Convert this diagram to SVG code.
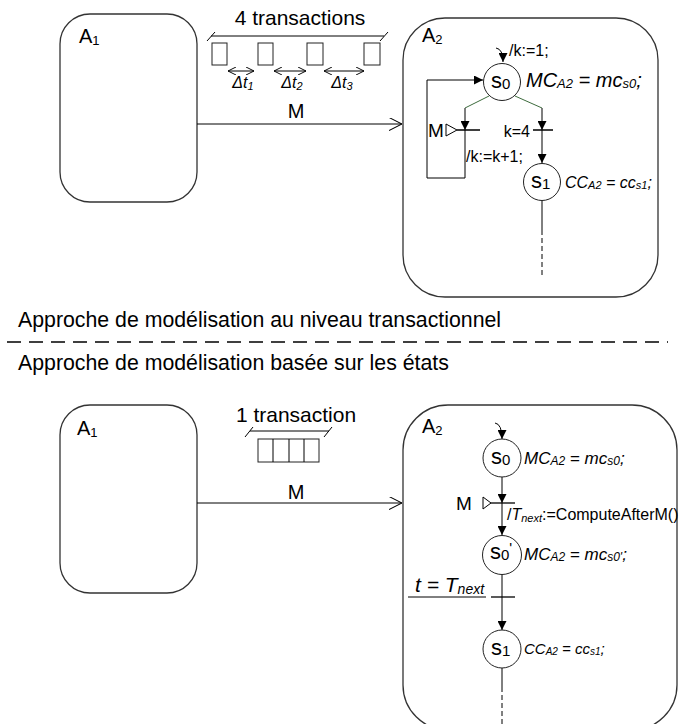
<svg xmlns="http://www.w3.org/2000/svg" width="679" height="724" viewBox="0 0 679 724">
<defs>
<style>
text{font-family:"Liberation Sans",Arial,sans-serif;fill:#000}
.it{font-style:italic}
.box{fill:none;stroke:#333;stroke-width:1.3}
.ln{fill:none;stroke:#000;stroke-width:1}
.gr{fill:none;stroke:#3d6b3d;stroke-width:1}
.gy{fill:none;stroke:#555;stroke-width:1.5}
.st{fill:#fff;stroke:#222;stroke-width:1}
.bar{fill:none;stroke:#000;stroke-width:1.3}
.pk{fill:#fff;stroke:#222;stroke-width:1}
</style>
<marker id="fa" viewBox="0 0 10 10" refX="10" refY="5" markerWidth="9" markerHeight="9" markerUnits="userSpaceOnUse" orient="auto"><path d="M0,0 L10,5 L0,10 z" fill="#000"/></marker>
<marker id="va" viewBox="0 0 10 10" refX="10" refY="5" markerWidth="13" markerHeight="13" markerUnits="userSpaceOnUse" orient="auto"><path d="M0,0 L10,5 L0,10" fill="none" stroke="#000" stroke-width="0.8"/></marker>
<marker id="vs" viewBox="0 0 10 10" refX="10" refY="5" markerWidth="8" markerHeight="8" markerUnits="userSpaceOnUse" orient="auto-start-reverse"><path d="M0,0 L10,5 L0,10" fill="none" stroke="#000" stroke-width="1.2"/></marker>
</defs>

<!-- ===== Top: transactional level ===== -->
<g id="A1-top">
<rect class="box" x="60" y="14" width="137" height="188" rx="30"/>
<text x="79" y="43" font-size="20">A<tspan font-size="13" dy="2">1</tspan></text>
</g>

<g id="transactions-top">
<text x="300" y="25" font-size="21" text-anchor="middle">4 transactions</text>
<path class="ln" d="M211,36 H384 M215,32 L207,41 M388,32 L380,41"/>
<rect class="pk" x="212" y="43" width="15" height="22"/>
<rect class="pk" x="258" y="43" width="15" height="22"/>
<rect class="pk" x="307" y="43" width="16" height="22"/>
<rect class="pk" x="364" y="43" width="16" height="22"/>
<path class="ln" d="M228,71 H254" marker-start="url(#vs)" marker-end="url(#vs)"/>
<path class="ln" d="M274,71 H306" marker-start="url(#vs)" marker-end="url(#vs)"/>
<path class="ln" d="M324,71 H364" marker-start="url(#vs)" marker-end="url(#vs)"/>
<text class="it" x="243" y="88" font-size="16" text-anchor="middle">Δt<tspan font-size="11" dy="2">1</tspan></text>
<text class="it" x="292" y="88" font-size="16" text-anchor="middle">Δt<tspan font-size="11" dy="2">2</tspan></text>
<text class="it" x="342" y="88" font-size="16" text-anchor="middle">Δt<tspan font-size="11" dy="2">3</tspan></text>
</g>

<g id="A2-top">
<rect class="box" x="403" y="18" width="255" height="279" rx="42"/>
<text x="422" y="42" font-size="20">A<tspan font-size="13" dy="2">2</tspan></text>
</g>

<g id="connectors-top">
<text x="296" y="118" font-size="20" text-anchor="middle">M</text>
<path class="ln" d="M197,124 H402" marker-end="url(#va)"/>
<path class="ln" d="M496,48 Q503,49 503,62" marker-end="url(#fa)"/>
<path class="gr" d="M489,96 L465,108"/>
<path class="gr" d="M515,96 L542,108"/>
<path class="gy" d="M465,108 V130" marker-end="url(#fa)"/>
<path class="gy" d="M465,130 V178"/>
<path class="ln" d="M465,178 H427 V80 H483" marker-end="url(#fa)"/>
<path class="gy" d="M542,108 V130" marker-end="url(#fa)"/>
<path class="gy" d="M542,130 V163" marker-end="url(#fa)"/>
<path class="bar" d="M457,130 H480 M533,130 H553"/>
<path class="ln" d="M446,124 L457,130 L446,136 Z" stroke-width="1.3"/>
<path class="ln" d="M542,200.5 V230"/>
<path class="ln" d="M542,230 V275" stroke-dasharray="5 3"/>
<text x="428" y="137" font-size="19">M</text>
<text x="530" y="137" font-size="16" text-anchor="end">k=4</text>
<text x="466" y="162" font-size="16">/k:=k+1;</text>
<text x="509" y="56" font-size="16">/k:=1;</text>
</g>

<g id="s0-top">
<circle class="st" cx="502" cy="82" r="18.5"/>
<text x="491" y="88" font-size="22">s<tspan font-size="15" dy="1">0</tspan></text>
<text class="it" x="526" y="87" font-size="20">MC<tspan font-size="13" dy="1">A2</tspan><tspan dy="-1"> = mc</tspan><tspan font-size="13" dy="1">s0</tspan><tspan dy="-1">;</tspan></text>
</g>

<g id="s1-top">
<circle class="st" cx="542" cy="182" r="18.5"/>
<text x="531" y="188" font-size="22">s<tspan font-size="15" dy="1">1</tspan></text>
<text class="it" x="565" y="188" font-size="16">CC<tspan font-size="11" dy="1">A2</tspan><tspan dy="-1"> = cc</tspan><tspan font-size="11" dy="1">s1</tspan><tspan dy="-1">;</tspan></text>
</g>

<!-- ===== Separator ===== -->
<g id="separator">
<text x="18" y="327" font-size="21.3">Approche de modélisation au niveau transactionnel</text>
<path d="M7,342 H668" stroke="#000" stroke-width="1.5" stroke-dasharray="14 8" fill="none"/>
<text x="18" y="370" font-size="21.3">Approche de modélisation basée sur les états</text>
</g>

<!-- ===== Bottom: state based ===== -->
<g id="A1-bottom">
<rect class="box" x="60" y="405" width="137" height="188" rx="30"/>
<text x="77" y="435" font-size="20">A<tspan font-size="13" dy="2">1</tspan></text>
</g>

<g id="transaction-bottom">
<text x="296" y="422" font-size="21" text-anchor="middle">1 transaction</text>
<path class="ln" d="M250,431 H329 M253,427 L245,437 M332,427 L324,437"/>
<rect class="pk" x="258" y="439" width="61" height="23"/>
<path class="ln" d="M273,439 V462 M289,439 V462 M304,439 V462"/>
</g>

<g id="A2-bottom">
<rect class="box" x="403" y="405" width="274" height="325" rx="45"/>
<text x="422" y="433" font-size="20">A<tspan font-size="13" dy="2">2</tspan></text>
</g>

<g id="connectors-bottom">
<text x="296" y="499" font-size="20" text-anchor="middle">M</text>
<path class="ln" d="M197,503 H402" marker-end="url(#va)"/>
<path class="ln" d="M495,423 Q502,424 502,439" marker-end="url(#fa)"/>
<path class="ln" d="M502,477 V503" marker-end="url(#fa)"/>
<path class="gy" d="M502,503 V535" marker-end="url(#fa)"/>
<path class="bar" d="M491,503 H515"/>
<path class="ln" d="M483,497 L491,503 L483,509 Z" stroke-width="1.3"/>
<text x="456" y="510" font-size="19">M</text>
<text x="507" y="520" font-size="16">/<tspan class="it">T</tspan><tspan class="it" font-size="11" dy="2">next</tspan><tspan dy="-2">:=ComputeAfterM()</tspan></text>
<path class="gy" d="M502,574 V630" marker-end="url(#fa)"/>
<path class="bar" d="M491,597 H515"/>
<text class="it" x="415" y="592" font-size="21">t = T<tspan font-size="14" dy="2">next</tspan></text>
<path class="ln" d="M408,597 H486"/>
<path class="ln" d="M502,668 V687"/>
<path class="ln" d="M502,687 V724" stroke-dasharray="5 3"/>
</g>

<g id="s0-bottom">
<circle class="st" cx="502" cy="458" r="19"/>
<text x="491" y="464" font-size="22">s<tspan font-size="15" dy="1">0</tspan></text>
<text class="it" x="524" y="464" font-size="17">MC<tspan font-size="12" dy="1">A2</tspan><tspan dy="-1"> = mc</tspan><tspan font-size="12" dy="1">s0</tspan><tspan dy="-1">;</tspan></text>
</g>

<g id="s0prime-bottom">
<circle class="st" cx="502" cy="555" r="19.5" stroke="#2f6a3a"/>
<text x="490" y="559" font-size="22">s<tspan font-size="15" dy="1">0</tspan><tspan font-size="15" dy="-7">'</tspan></text>
<text class="it" x="524" y="560" font-size="17">MC<tspan font-size="12" dy="1">A2</tspan><tspan dy="-1"> = mc</tspan><tspan font-size="12" dy="1">s0'</tspan><tspan dy="-1">;</tspan></text>
</g>

<g id="s1-bottom">
<circle class="st" cx="502" cy="649" r="19"/>
<text x="491" y="655" font-size="22">s<tspan font-size="15" dy="1">1</tspan></text>
<text class="it" x="524" y="654" font-size="15">CC<tspan font-size="10" dy="1">A2</tspan><tspan dy="-1"> = cc</tspan><tspan font-size="10" dy="1">s1</tspan><tspan dy="-1">;</tspan></text>
</g>
</svg>
